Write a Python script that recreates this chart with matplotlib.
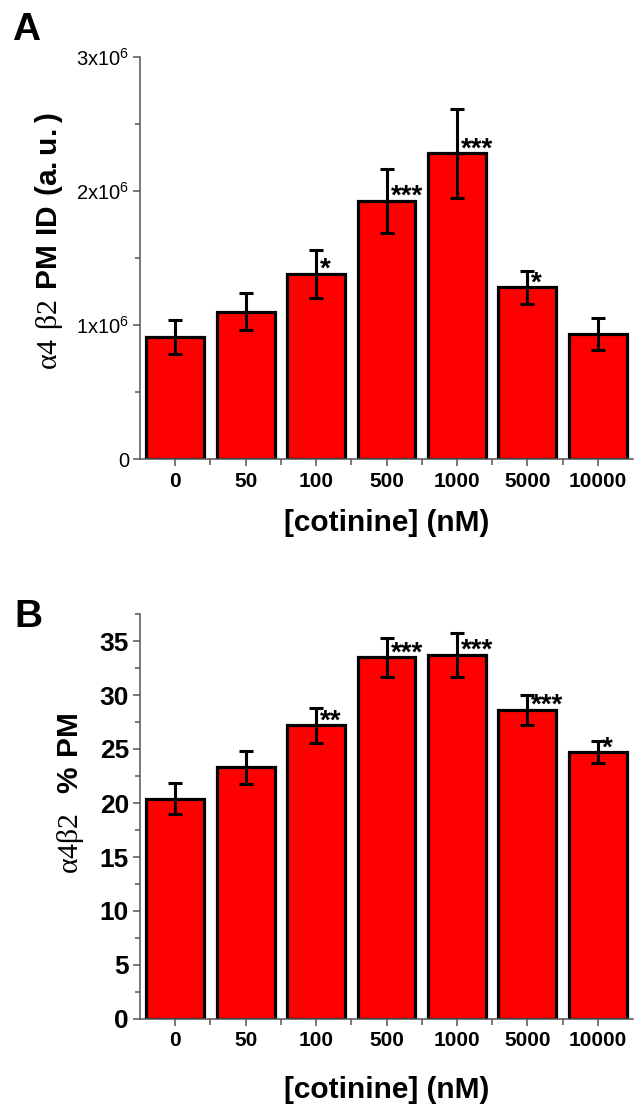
import matplotlib
matplotlib.use("Agg")
import matplotlib.pyplot as plt
import numpy as np
from matplotlib.ticker import MultipleLocator, FixedLocator

plt.rcParams['font.family'] = ['Liberation Sans', 'DejaVu Sans']
plt.rcParams['mathtext.fontset'] = 'custom'
plt.rcParams['mathtext.rm'] = 'Liberation Serif'
plt.rcParams['mathtext.bf'] = 'Liberation Sans:bold'
plt.rcParams['mathtext.sf'] = 'Liberation Sans'

# ---- data ----
categories = ["0", "50", "100", "500", "1000", "5000", "10000"]
a_values = [0.91e6, 1.10e6, 1.38e6, 1.925e6, 2.28e6, 1.28e6, 0.93e6]
a_errors = [0.13e6, 0.14e6, 0.18e6, 0.24e6, 0.33e6, 0.12e6, 0.12e6]
a_stars = ["", "", "*", "***", "***", "*", ""]
a_yticks = [0, 1e6, 2e6, 3e6]
a_yticklabels = ["0", r"1x10$^{\mathsf{6}}$", r"2x10$^{\mathsf{6}}$", r"3x10$^{\mathsf{6}}$"]

b_values = [20.4, 23.3, 27.2, 33.5, 33.7, 28.6, 24.7]
b_errors = [1.45, 1.5, 1.6, 1.8, 2.0, 1.4, 1.0]
b_stars = ["", "", "**", "***", "***", "***", "*"]
b_yticks = [0, 5, 10, 15, 20, 25, 30, 35]

W, H = 636, 1105
fig = plt.figure(figsize=(W / 100, H / 100), dpi=100)

def frac_box(x0, x1, ytop, ybot):
    return [x0 / W, 1 - ybot / H, (x1 - x0) / W, (ybot - ytop) / H]

axA = fig.add_axes(frac_box(140, 633, 57, 459))
axB = fig.add_axes(frac_box(140, 633, 614, 1019))

spine_col = "#555555"

def style(ax, values, errors, stars, ymax):
    x = np.arange(len(categories))
    ax.bar(x, values, width=0.82, color="#ff0000", edgecolor="black", linewidth=2.3, zorder=2)
    ax.errorbar(x, values, yerr=errors, fmt="none", ecolor="black", elinewidth=2.2,
                capsize=5.3, capthick=2.2, zorder=3)
    for xi, v, s in zip(x, values, stars):
        if s:
            ax.annotate(s, xy=(xi, v), xytext=(4, -3), textcoords="offset pixels",
                        ha="left", va="baseline", fontsize=20, fontweight="bold", zorder=4)
    ax.set_xlim(-0.5, 6.5)
    ax.set_ylim(0, ymax)
    for sp in ["top", "right"]:
        ax.spines[sp].set_visible(False)
    for sp in ["left", "bottom"]:
        ax.spines[sp].set_color(spine_col)
        ax.spines[sp].set_linewidth(1.1)
    ax.set_xticks(x)
    ax.set_xticklabels(categories, fontsize=15, fontweight="bold")
    ax.xaxis.set_minor_locator(FixedLocator(x[:-1] + 0.5))
    ax.tick_params(axis="both", which="both", direction="out", color=spine_col, width=1.1)
    ax.tick_params(axis="x", which="major", length=5, pad=4)
    ax.tick_params(axis="x", which="minor", length=4)
    ax.tick_params(axis="y", which="major", length=5)
    ax.tick_params(axis="y", which="minor", length=3.5)

style(axA, a_values, a_errors, a_stars, 3e6)
axA.set_yticks(a_yticks)
axA.set_yticklabels(a_yticklabels, fontsize=14.5)
axA.yaxis.set_minor_locator(MultipleLocator(0.5e6))
axA.tick_params(axis="y", pad=3)
axA.set_ylabel(r"$\mathrm{α4\ β2}\ \mathbf{PM\ ID\ (a.u.)}$", fontsize=21.5)
axA.yaxis.set_label_coords(-0.152, 0.542)
axA.set_xlabel("[cotinine] (nM)", fontsize=21.5, fontweight="bold")
axA.xaxis.set_label_coords(0.5, -0.125)

style(axB, b_values, b_errors, b_stars, 37.5)
axB.set_yticks(b_yticks)
axB.set_yticklabels([str(t) for t in b_yticks], fontsize=19, fontweight="bold")
axB.yaxis.set_minor_locator(MultipleLocator(2.5))
axB.tick_params(axis="y", pad=3)
axB.set_ylabel(r"$\mathrm{α4β2}\ \ \mathbf{\%\ PM}$", fontsize=21.5)
axB.yaxis.set_label_coords(-0.11, 0.558)
axB.set_xlabel("[cotinine] (nM)", fontsize=21.5, fontweight="bold")
axB.xaxis.set_label_coords(0.5, -0.14)

fig.text(12 / W, 1 - 40 / H, "A", fontsize=28, fontweight="bold", va="baseline", ha="left")
fig.text(14 / W, 1 - 627 / H, "B", fontsize=28, fontweight="bold", va="baseline", ha="left")

fig.savefig("out.png", dpi=100)
